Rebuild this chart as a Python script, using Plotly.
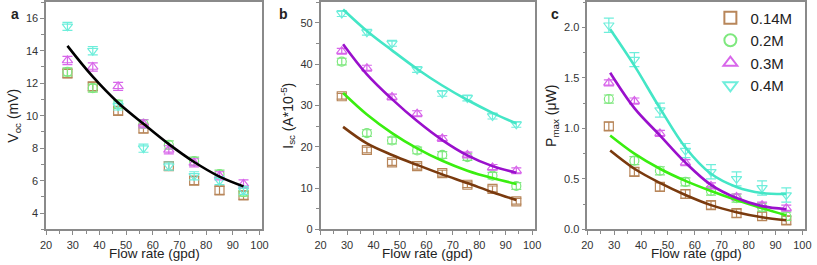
import plotly.graph_objects as go

flow = [28, 37.5, 47, 56.5, 66, 75.5, 85, 94]
series_names = ["0.14M", "0.2M", "0.3M", "0.4M"]

# Panel a: Voc (mV)
voc_014 = [12.6, 11.8, 10.3, 9.2, 6.9, 6.0, 5.4, 5.1]
voc_02 = [12.7, 11.7, 10.7, 9.5, 8.2, 7.2, 6.4, 5.3]
voc_03 = [13.4, 13.0, 11.8, 9.5, 7.9, 7.1, 6.3, 5.8]
voc_04 = [15.5, 14.0, 10.6, 8.0, 6.9, 6.3, 6.0, 5.4]
voc_err = [0.25, 0.25, 0.25, 0.25]
voc_fit = [14.3, 12.4, 10.8, 9.5, 8.25, 7.15, 6.25, 5.65]

# Panel b: Isc (A*10^-5)
isc_014 = [32.2, 19.2, 16.2, 15.3, 13.6, 10.8, 9.8, 6.8]
isc_02 = [40.6, 23.3, 21.5, 19.1, 18.0, 17.5, 13.0, 10.5]
isc_03 = [43.1, 39.0, 32.0, 28.0, 22.0, 18.0, 15.0, 14.2]
isc_04 = [52.2, 47.7, 45.0, 38.7, 32.9, 31.8, 27.4, 25.4]
isc_err = [0.7, 0.8, 0.7, 0.7]
isc_fit_014 = [24.8, 20.8, 18.0, 15.6, 13.3, 11.2, 9.0, 7.1]
isc_fit_02 = [33.0, 27.8, 23.3, 19.6, 16.6, 14.2, 12.4, 11.0]
isc_fit_03 = [44.8, 37.5, 31.5, 26.2, 21.6, 17.9, 15.3, 13.7]
isc_fit_04 = [53.2, 48.0, 43.3, 38.8, 34.8, 31.3, 28.2, 25.6]

# Panel c: Pmax (uW)
p_014 = [1.02, 0.57, 0.42, 0.35, 0.24, 0.16, 0.13, 0.09]
p_02 = [1.29, 0.68, 0.58, 0.47, 0.38, 0.31, 0.22, 0.13]
p_03 = [1.45, 1.27, 0.95, 0.66, 0.43, 0.32, 0.24, 0.21]
p_04 = [2.02, 1.68, 1.18, 0.78, 0.57, 0.50, 0.41, 0.34]
p_err = [0.04, 0.04, 0.03, 0.07]
p_fit_014 = [0.78, 0.60, 0.46, 0.34, 0.24, 0.17, 0.12, 0.09]
p_fit_02 = [0.93, 0.75, 0.60, 0.48, 0.38, 0.29, 0.21, 0.14]
p_fit_03 = [1.55, 1.20, 0.93, 0.66, 0.44, 0.31, 0.23, 0.20]
p_fit_04 = [1.98, 1.62, 1.20, 0.81, 0.55, 0.42, 0.36, 0.35]

x_ticks = [20, 30, 40, 50, 60, 70, 80, 90, 100]

marker_colors = ["#b8865a", "#7ee87e", "#d866ea", "#6eeedb"]
line_colors = ["#7a3a0e", "#3aee10", "#9a10cc", "#44e6c6"]
symbols = ["square-open", "circle-open", "triangle-up-open", "triangle-down-open"]

fig = go.Figure()

panels = [
    ("x", "y", [voc_014, voc_02, voc_03, voc_04], voc_err, None),
    ("x2", "y2", [isc_014, isc_02, isc_03, isc_04], isc_err,
     [isc_fit_014, isc_fit_02, isc_fit_03, isc_fit_04]),
    ("x3", "y3", [p_014, p_02, p_03, p_04], p_err,
     [p_fit_014, p_fit_02, p_fit_03, p_fit_04]),
]

for pi, (xa, ya, sers, errs, fits) in enumerate(panels):
    for si, vals in enumerate(sers):
        fig.add_trace(go.Scatter(
            x=flow, y=vals, mode="markers", xaxis=xa, yaxis=ya,
            name=series_names[si], showlegend=(pi == 2),
            marker=dict(symbol=symbols[si], size=9, color=marker_colors[si],
                        line=dict(width=1.2, color=marker_colors[si])),
            error_y=dict(type="constant", value=errs[si], color=marker_colors[si],
                         thickness=1.2, width=5),
        ))
    if fits is not None:
        for si, fv in enumerate(fits):
            fig.add_trace(go.Scatter(
                x=[28.5] + flow[1:], y=fv, mode="lines", xaxis=xa, yaxis=ya,
                showlegend=False, line=dict(color=line_colors[si], width=2.6, shape="spline"),
                hoverinfo="skip",
            ))
    else:
        fig.add_trace(go.Scatter(
            x=flow, y=voc_fit, mode="lines", xaxis=xa, yaxis=ya, showlegend=False,
            line=dict(color="black", width=2.6, shape="spline"), hoverinfo="skip",
        ))

W, H = 817, 265
HE = 258  # effective drawn height observed in the browser
ydom = [1 - 228.5 / HE, 1 - 2 / HE]
xdoms = [[40.7 / W, 260 / W], [319.3 / W, 536.7 / W], [590 / W, 811 / W]]
yranges = [[3, 17], [0, 55], [0, 2.25]]
ydticks = [2, 10, 0.5]
yminor = [1, 5, 0.25]
ytitles = ["V<sub>oc</sub> (mV)", "I<sub>sc</sub> (A*10<sup>-5</sup>)", "P<sub>max</sub> (μW)"]
ytickformats = ["d", "d", ".1f"]
FONT = "Liberation Sans, Arial"

axis_common = dict(showline=True, linecolor="#8a8a8a", linewidth=1.5, mirror=True,
                   ticks="outside", ticklen=4, tickwidth=1.2, tickcolor="#8a8a8a",
                   showgrid=False, zeroline=False,
                   tickfont=dict(family=FONT, size=11, color="#333"))

layout = dict(width=W, height=H, autosize=False, margin=dict(l=0, r=0, t=0, b=0),
              paper_bgcolor="white", plot_bgcolor="white",
              showlegend=True,
              legend=dict(x=0.875, y=1 - 1.5 / HE, xanchor="left", yanchor="top",
                          font=dict(family=FONT, size=15, color="#222"),
                          bgcolor="rgba(0,0,0,0)", tracegroupgap=0, itemsizing="constant"))

for i in range(3):
    sx = "" if i == 0 else str(i + 1)
    layout["xaxis" + sx] = dict(axis_common, domain=xdoms[i], range=[20, 101],
                                tickvals=x_ticks, anchor="y" + sx, ticklabelstandoff=1,
                                minor=dict(dtick=5, tick0=20, ticks="outside", ticklen=3,
                                           tickcolor="#8a8a8a"))
    layout["yaxis" + sx] = dict(axis_common, domain=ydom, range=yranges[i],
                                dtick=ydticks[i], tick0=0, anchor="x" + sx,
                                tickformat=ytickformats[i],
                                minor=dict(dtick=yminor[i], ticks="outside", ticklen=3,
                                           tickcolor="#8a8a8a"),
                                title=dict(text=ytitles[i], standoff=4,
                                           font=dict(family=FONT, size=14, color="#222")))

fig.update_layout(**layout)

for i in range(3):
    fig.add_annotation(text="Flow rate (gpd)", x=(xdoms[i][0] + xdoms[i][1]) / 2, y=1 - 252.5 / HE,
                       xref="paper", yref="paper", xanchor="center", yanchor="middle",
                       showarrow=False, font=dict(family=FONT, size=13.5, color="#222"))

for lab, xp in [("a", 3), ("b", 275), ("c", 551)]:
    fig.add_annotation(text="<b>" + lab + "</b>", x=xp / W, y=1 - 14 / HE, xref="paper", yref="paper",
                       xanchor="left", yanchor="middle", showarrow=False,
                       font=dict(family=FONT, size=14, color="#222"))

fig.write_html("out.html", config={"displayModeBar": False, "responsive": False},
               post_script="document.body.style.margin='0';document.body.style.overflow='hidden';")
